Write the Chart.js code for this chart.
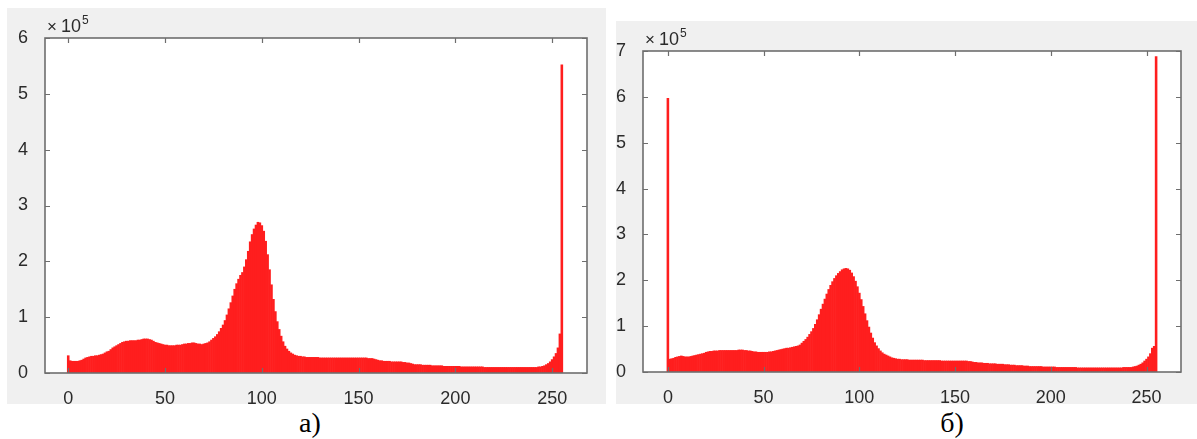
<!DOCTYPE html>
<html>
<head>
<meta charset="utf-8">
<script src="https://cdn.jsdelivr.net/npm/chart.js@4.4.1/dist/chart.umd.min.js"></script>
<style>
  html, body { margin: 0; padding: 0; background: #ffffff; width: 1197px; height: 439px; overflow: hidden; }
  .panel { position: absolute; background: #f0f0f0; }
  .cap { position: absolute; font-family: "Liberation Serif", "Times New Roman", serif; font-size: 28px; color: #000; line-height: 1; transform: translateX(-50%); white-space: nowrap; }
</style>
</head>
<body>
<canvas id="chartA" class="panel" style="left:7px; top:8px;" width="599" height="396"></canvas>
<canvas id="chartB" class="panel" style="left:616px; top:21px;" width="581" height="383"></canvas>
<div class="cap" style="left:310px; top:409px;">а)</div>
<div class="cap" style="left:952px; top:409px;">б)</div>
<script>
// ---- Data: pixel-intensity histograms (counts per gray level 0..255) ----
const grayLevels = Array.from({length: 256}, (_, i) => i);

const countsA = [
  31000,22000,21000,21000,21000,21000,22000,23000,25000,27000,28000,29000,30000,30000,31000,31000,
  32000,33000,34000,36000,38000,39000,42000,45000,47000,49000,51000,53000,55000,56000,57000,57000,
  58000,58000,58000,58000,59000,59000,60000,61000,61000,61000,60000,59000,57000,55000,54000,53000,
  52000,51000,50000,50000,49000,49000,49000,49000,50000,50000,50000,51000,52000,52000,53000,53000,
  54000,54000,53000,52000,52000,51000,52000,53000,54000,56000,59000,62000,65000,69000,74000,80000,
  86000,94000,104000,115000,126000,138000,150000,160000,168000,175000,180000,190000,203000,218000,235000,248000,
  258000,265000,270000,269000,264000,254000,236000,212000,185000,158000,132000,110000,92000,78000,66000,56000,
  48000,43000,39000,36000,34000,32000,31000,30000,30000,29000,29000,28000,28000,28000,28000,28000,
  28000,28000,27000,27000,27000,27000,27000,27000,27000,27000,27000,27000,27000,27000,27000,27000,
  27000,27000,27000,27000,27000,27000,27000,27000,27000,27000,27000,26000,26000,26000,25000,24000,
  23000,22000,22000,21000,21000,21000,21000,20000,20000,20000,20000,20000,20000,19000,19000,18000,
  18000,17000,16000,15000,15000,15000,15000,14000,14000,14000,14000,14000,13000,13000,13000,13000,
  13000,13000,12000,12000,12000,12000,12000,12000,12000,12000,12000,11000,11000,11000,11000,11000,
  11000,11000,11000,11000,11000,11000,11000,10000,10000,10000,10000,10000,10000,10000,10000,10000,
  10000,10000,10000,10000,10000,10000,10000,10000,10000,10000,10000,10000,10000,10000,10000,10000,
  10000,10000,10000,11000,11000,12000,13000,15000,17000,20000,24000,29000,35000,45000,70000,552000
];

const countsB = [
  597000,28000,29000,30000,32000,33000,34000,35000,34000,33000,33000,33000,34000,35000,36000,37000,
  38000,39000,40000,41000,43000,44000,45000,45000,46000,46000,46000,47000,47000,47000,47000,47000,
  47000,47000,47000,47000,47000,48000,48000,48000,47000,47000,46000,46000,45000,44000,44000,43000,
  43000,43000,43000,43000,43000,44000,44000,45000,46000,47000,48000,49000,50000,51000,52000,52000,
  53000,54000,55000,56000,57000,59000,63000,67000,71000,76000,82000,88000,95000,104000,114000,125000,
  137000,148000,159000,170000,180000,189000,197000,204000,210000,215000,219000,223000,225000,226000,225000,222000,
  216000,208000,198000,186000,172000,158000,143000,127000,112000,98000,85000,74000,64000,57000,51000,46000,
  42000,39000,37000,35000,33000,31000,30000,29000,28000,28000,27000,27000,27000,27000,26000,26000,
  26000,26000,26000,26000,26000,26000,25000,25000,25000,25000,25000,25000,25000,25000,25000,24000,
  24000,24000,24000,24000,24000,24000,24000,24000,24000,24000,24000,24000,24000,23000,23000,22000,
  21000,21000,20000,20000,20000,19000,19000,19000,18000,18000,18000,18000,17000,17000,17000,17000,
  16000,16000,16000,15000,15000,15000,14000,14000,14000,14000,13000,13000,13000,12000,12000,12000,
  12000,12000,12000,12000,11000,11000,11000,11000,11000,11000,11000,10000,10000,10000,10000,10000,
  10000,10000,10000,10000,10000,10000,9000,9000,9000,9000,9000,9000,9000,9000,9000,9000,
  9000,9000,9000,9000,9000,9000,9000,9000,9000,9000,9000,9000,9000,9000,10000,10000,
  10000,10000,10000,11000,12000,13000,15000,17000,20000,24000,28000,33000,40000,52000,56000,688000
];

const xTickValues = [0, 50, 100, 150, 200, 250];
const yTickValuesA = [0, 100000, 200000, 300000, 400000, 500000, 600000];
const yTickValuesB = [0, 100000, 200000, 300000, 400000, 500000, 600000, 700000];
const exponentBase = '10';
const exponentPower = '5';

// ---- Styling ----
const BAR = 'rgb(255,30,30)';
const AXIS = '#6e6e6e';
const TEXT = '#2b2b2b';
const FONT = '"Liberation Sans", Arial, Helvetica, sans-serif';

const framePlugin = {
  id: 'matlabFrame',
  beforeDatasetsDraw(chart) {
    const {ctx, chartArea: a} = chart;
    ctx.save();
    ctx.fillStyle = '#ffffff';
    ctx.fillRect(a.left, a.top, a.right - a.left, a.bottom - a.top);
    ctx.restore();
  },
  afterDatasetsDraw(chart) {
    const {ctx, chartArea: a, scales: {x, y}} = chart;
    ctx.save();
    ctx.strokeStyle = AXIS;
    ctx.lineWidth = 1.2;
    ctx.beginPath();
    x.ticks.forEach(t => {
      const px = Math.round(x.getPixelForValue(t.value)) + 0.5;
      ctx.moveTo(px, a.bottom); ctx.lineTo(px, a.bottom - 5);
      ctx.moveTo(px, a.top); ctx.lineTo(px, a.top + 5);
    });
    y.ticks.forEach(t => {
      const py = Math.round(y.getPixelForValue(t.value)) + 0.5;
      ctx.moveTo(a.left, py); ctx.lineTo(a.left + 5, py);
      ctx.moveTo(a.right, py); ctx.lineTo(a.right - 5, py);
    });
    ctx.stroke();
    ctx.lineWidth = 1.6;
    ctx.strokeRect(a.left, a.top, a.right - a.left, a.bottom - a.top);
    // exponent label  ×10^5
    ctx.fillStyle = TEXT;
    ctx.textBaseline = 'alphabetic';
    ctx.textAlign = 'left';
    ctx.font = '17px ' + FONT;
    ctx.fillText('\u00D7', a.left + 2, a.top - 6);
    ctx.font = '18px ' + FONT;
    ctx.fillText(exponentBase, a.left + 16, a.top - 6);
    const w = ctx.measureText(exponentBase).width;
    ctx.font = '12px ' + FONT;
    ctx.fillText(exponentPower, a.left + 17 + w, a.top - 14);
    ctx.restore();
  }
};

function makeChart(id, counts, yTicks, xMin, xMax, yMax, geom) {
  const points = grayLevels.map((g, i) => ({x: g, y: counts[i]}));
  return new Chart(document.getElementById(id), {
    type: 'bar',
    data: {
      datasets: [{
        data: points,
        backgroundColor: BAR,
        borderWidth: 0,
        barPercentage: 1.0,
        categoryPercentage: 1.0
      }]
    },
    options: {
      responsive: false,
      animation: false,
      devicePixelRatio: 1,
      layout: { padding: { left: 0, top: geom.top, right: geom.right, bottom: 0 } },
      plugins: { legend: { display: false }, tooltip: { enabled: false } },
      scales: {
        x: {
          type: 'linear',
          offset: false,
          min: xMin, max: xMax,
          grid: { display: false, offset: false },
          border: { display: false },
          ticks: { color: TEXT, font: { family: FONT, size: 18 }, padding: 7, maxRotation: 0, autoSkip: false },
          afterBuildTicks: (axis) => { axis.ticks = xTickValues.map(v => ({value: v})); },
          afterFit: (axis) => { axis.height = geom.xh; }
        },
        y: {
          type: 'linear',
          min: 0, max: yMax,
          grid: { display: false },
          border: { display: false },
          ticks: { color: TEXT, font: { family: FONT, size: 18 }, padding: 9,
                   callback: (v) => String(Math.round(v / 100000)) },
          afterBuildTicks: (axis) => { axis.ticks = yTicks.map(v => ({value: v})); },
          afterFit: (axis) => { axis.width = geom.yw; }
        }
      }
    },
    plugins: [framePlugin]
  });
}

makeChart('chartA', countsA, yTickValuesA, -12, 268, 600000, { top: 30, right: 19, xh: 31, yw: 38 });
makeChart('chartB', countsB, yTickValuesB, -13, 268, 700000, { top: 30, right: 16, xh: 32, yw: 27 });
</script>
</body>
</html>
